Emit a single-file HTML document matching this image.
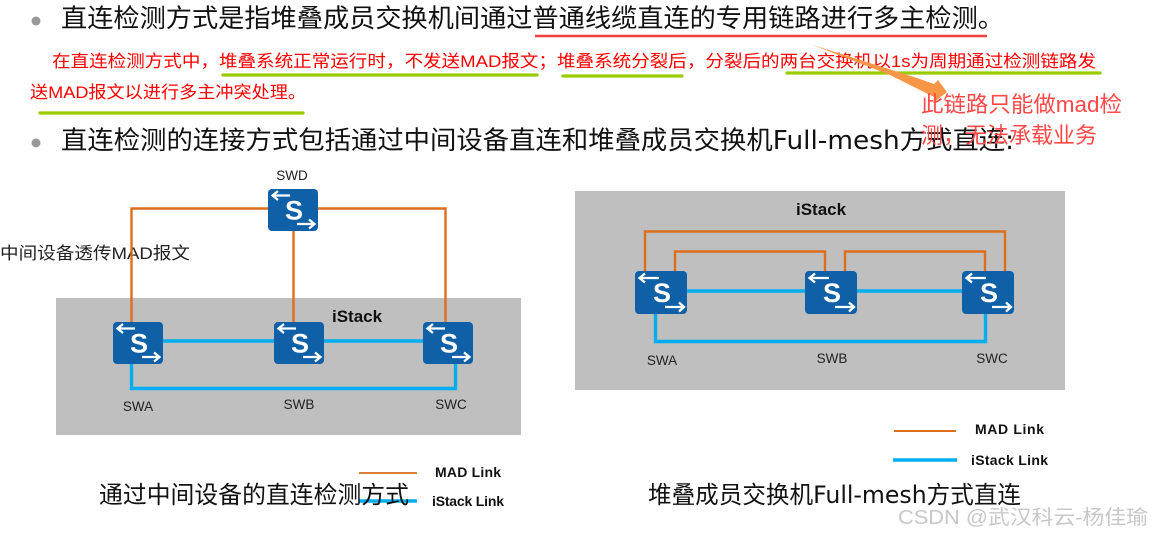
<!DOCTYPE html>
<html>
<head>
<meta charset="utf-8">
<style>
html,body{margin:0;padding:0;background:#fff;width:1152px;height:536px;overflow:hidden}
svg{display:block}
text{font-family:"Liberation Sans","Noto Sans CJK SC",sans-serif}
.ar{fill:none;stroke:#fff;stroke-width:2.300}
.s{font-size:27px;font-weight:700;fill:#fff;text-anchor:middle}
.l{font-size:13.5px;fill:#222;text-anchor:middle}
.b{font-size:14px;font-weight:700;fill:#111}
.o{fill:none;stroke:#dd6f1c;stroke-width:2.400}
.c{fill:none;stroke:#00aeef;stroke-width:3.400}
.g{fill:none;stroke:#99cc00;stroke-width:3.200;stroke-linecap:round}
.dj{font-family:"DejaVu Sans","Liberation Sans",sans-serif}
</style>
</head>
<body>
<svg width="1152" height="536" viewBox="0 0 1152 536" xmlns="http://www.w3.org/2000/svg">
<rect width="1152" height="536" fill="#fff"/>

<rect x="56" y="298" width="465" height="137" fill="#bfbfbf"/>
<rect x="575" y="191" width="490" height="199" fill="#bfbfbf"/>

<circle cx="36" cy="21" r="4.500" fill="#999"/>
<text x="61" y="27" font-size="25.500" fill="#111" textLength="943" lengthAdjust="spacingAndGlyphs">直连检测方式是指堆叠成员交换机间通过普通线缆直连的专用链路进行多主检测。</text>
<line x1="535" y1="36" x2="987" y2="36" stroke="#f04040" stroke-width="2.600"/>

<text x="52" y="67" font-size="17" fill="#ff0000" textLength="1044" lengthAdjust="spacingAndGlyphs">在直连检测方式中，堆叠系统正常运行时，不发送MAD报文；堆叠系统分裂后，分裂后的两台交换机以1s为周期通过检测链路发</text>
<text x="30" y="98" font-size="17" fill="#ff0000" textLength="276" lengthAdjust="spacingAndGlyphs">送MAD报文以进行多主冲突处理。</text>
<line class="g" x1="223" y1="75" x2="537" y2="75"/>
<line class="g" x1="563" y1="76" x2="682" y2="76"/>
<line class="g" x1="787" y1="73" x2="1100" y2="73"/>
<line class="g" x1="40" y1="113" x2="303" y2="113"/>

<circle cx="36" cy="143" r="4.500" fill="#999"/>
<text x="61" y="149" font-size="25.500" fill="#111" textLength="953" lengthAdjust="spacingAndGlyphs">直连检测的连接方式包括通过中间设备直连和堆叠成员交换机<tspan class="dj">Full-mesh</tspan>方式直连<tspan class="dj">:</tspan></text>

<polygon points="813,45 917,78 934,84 938,80 947,92 933,103 934,97 890,75" fill="#f79646"/>
<text x="921" y="112" font-size="22" fill="#ff4848" textLength="201" lengthAdjust="spacingAndGlyphs">此链路只能做mad检</text>
<text x="921" y="143" font-size="22" fill="#ff4848" textLength="176" lengthAdjust="spacingAndGlyphs">测，无法承载业务</text>

<text x="0" y="259" font-size="17" fill="#222" textLength="190" lengthAdjust="spacingAndGlyphs">中间设备透传MAD报文</text>

<path class="o" d="M131.500 322V208.500H268M318 208.500H445.500V322M293.500 231V322"/>
<path class="c" d="M163 341H274M324 341H423M131.500 364V388.500H455.500V364"/>
<path class="o" d="M645 271V231.500H1005V271M675 271V251.500H825V271M845 271V251.500H985V271"/>
<path class="c" d="M687 291H805M857 291H962M655.500 314V341.500H985.500V314"/>

<g transform="translate(268,189)"><rect width="50" height="42" rx="4" fill="#1060a8"/><path class="ar" d="M22 6.500H5M10 2L4.500 6.500L10 11M29 35H46.500M41 30.500L46.500 35L41 39.500"/><text class="s" x="26" y="30.500">S</text></g>
<g transform="translate(113,322)"><rect width="50" height="42" rx="4" fill="#1060a8"/><path class="ar" d="M22 6.500H5M10 2L4.500 6.500L10 11M29 35H46.500M41 30.500L46.500 35L41 39.500"/><text class="s" x="26" y="30.500">S</text></g>
<g transform="translate(274,322)"><rect width="50" height="42" rx="4" fill="#1060a8"/><path class="ar" d="M22 6.500H5M10 2L4.500 6.500L10 11M29 35H46.500M41 30.500L46.500 35L41 39.500"/><text class="s" x="26" y="30.500">S</text></g>
<g transform="translate(423,322)"><rect width="50" height="42" rx="4" fill="#1060a8"/><path class="ar" d="M22 6.500H5M10 2L4.500 6.500L10 11M29 35H46.500M41 30.500L46.500 35L41 39.500"/><text class="s" x="26" y="30.500">S</text></g>
<g transform="translate(635,271)"><rect width="52" height="43" rx="4" fill="#1060a8"/><path class="ar" d="M24 7H5M10 2.500L4.500 7L10 11.500M30 36H49M44 31.500L49 36L44 40.500"/><text class="s" x="27" y="31">S</text></g>
<g transform="translate(805,271)"><rect width="52" height="43" rx="4" fill="#1060a8"/><path class="ar" d="M24 7H5M10 2.500L4.500 7L10 11.500M30 36H49M44 31.500L49 36L44 40.500"/><text class="s" x="27" y="31">S</text></g>
<g transform="translate(962,271)"><rect width="52" height="43" rx="4" fill="#1060a8"/><path class="ar" d="M24 7H5M10 2.500L4.500 7L10 11.500M30 36H49M44 31.500L49 36L44 40.500"/><text class="s" x="27" y="31">S</text></g>

<text class="l" x="292" y="180">SWD</text>
<text class="l" x="138" y="411">SWA</text>
<text class="l" x="299" y="409">SWB</text>
<text class="l" x="451" y="409">SWC</text>
<text class="l" x="662" y="365" font-size="14">SWA</text>
<text class="l" x="832" y="363">SWB</text>
<text class="l" x="992" y="363">SWC</text>

<text x="332" y="322" font-size="17" font-weight="700" fill="#111">iStack</text>
<text x="796" y="215" font-size="17" font-weight="700" fill="#111">iStack</text>

<line x1="894" y1="431" x2="956" y2="431" stroke="#dd6f1c" stroke-width="2"/>
<line x1="893" y1="460" x2="957" y2="460" stroke="#00aeef" stroke-width="3.600"/>
<text class="b" x="975" y="434" textLength="69">MAD Link</text>
<text class="b" x="971" y="465" textLength="77">iStack Link</text>

<line x1="359" y1="473" x2="417" y2="473" stroke="#e07f3c" stroke-width="2"/>
<line x1="359" y1="501" x2="417" y2="501" stroke="#00aeef" stroke-width="3.600"/>
<text class="b" x="435" y="477" textLength="66" font-size="13.500">MAD Link</text>
<text class="b" x="432" y="506" textLength="72" font-size="13.500">iStack Link</text>

<text x="99" y="503" font-size="24" fill="#111" textLength="310" lengthAdjust="spacingAndGlyphs">通过中间设备的直连检测方式</text>
<text x="648" y="503" font-size="24" fill="#111" textLength="373" lengthAdjust="spacingAndGlyphs">堆叠成员交换机<tspan class="dj">Full-mesh</tspan>方式直连</text>

<text x="898" y="524" font-size="20" fill="#c8c8c8" textLength="250" lengthAdjust="spacingAndGlyphs">CSDN @武汉科云-杨佳瑜</text>
</svg>
</body>
</html>
